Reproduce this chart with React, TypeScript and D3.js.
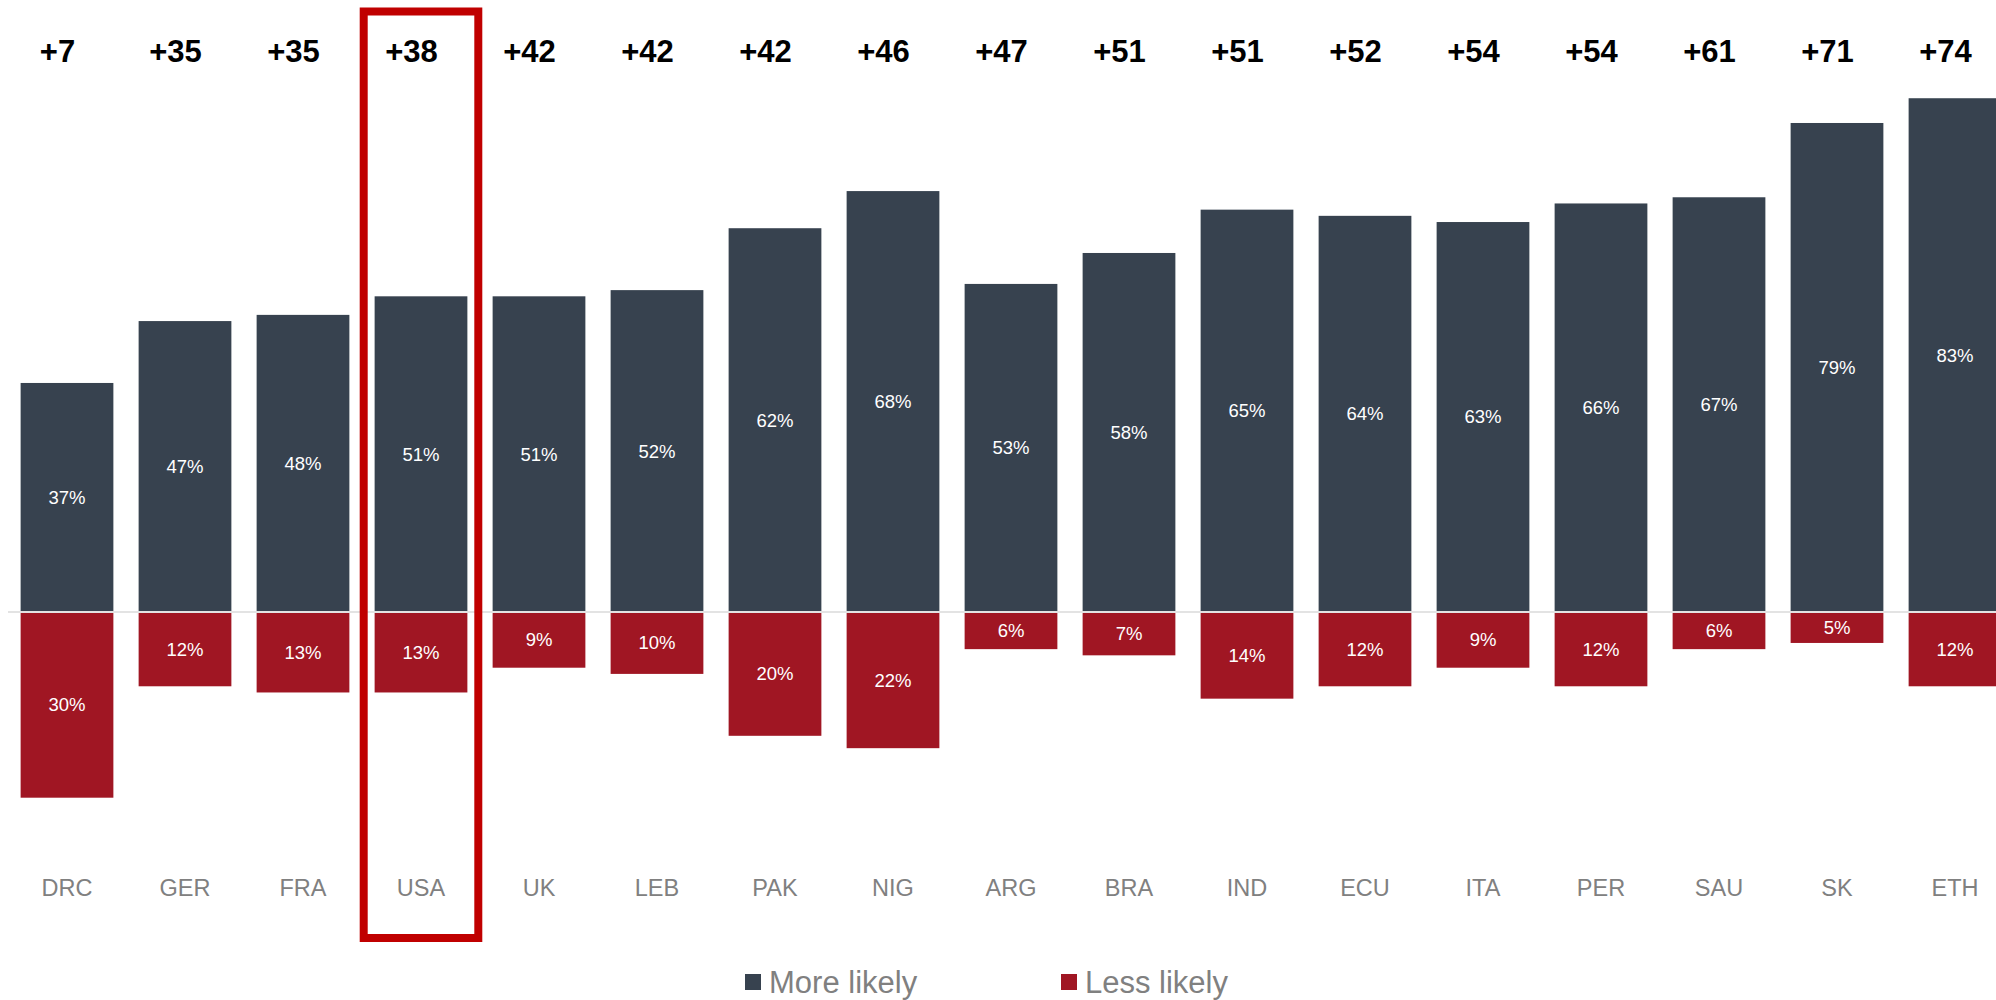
import { useRef, useEffect } from "react";
import * as d3 from "d3";

const countries = ["DRC", "GER", "FRA", "USA", "UK", "LEB", "PAK", "NIG", "ARG", "BRA", "IND", "ECU", "ITA", "PER", "SAU", "SK", "ETH"];
const moreLikely = [37, 47, 48, 51, 51, 52, 62, 68, 53, 58, 65, 64, 63, 66, 67, 79, 83];
const lessLikely = [30, 12, 13, 13, 9, 10, 20, 22, 6, 7, 14, 12, 9, 12, 6, 5, 12];
const netLabels = ["+7", "+35", "+35", "+38", "+42", "+42", "+42", "+46", "+47", "+51", "+51", "+52", "+54", "+54", "+61", "+71", "+74"];
const highlighted = "USA";

const legendItems = [
  { name: "More likely", color: "#37424f" },
  { name: "Less likely", color: "#a01623" },
];

const width = 1996;
const height = 1000;

const App = () => {
  const svgRef = useRef<SVGSVGElement>(null);

  useEffect(() => {
    const svg = d3.select(svgRef.current);
    svg.selectAll("*").remove();

    const zeroY = 612;
    const x = d3
      .scaleBand()
      .domain(countries)
      .range([8, 8 + countries.length * 118])
      .paddingInner(0.214)
      .paddingOuter(0.107);
    // one percentage point is ~6.19px
    const y = d3.scaleLinear().domain([0, 100]).range([zeroY, zeroY - 619]);
    const h = (v: number) => y(0) - y(v);

    const data = countries.map((c, i) => ({
      name: c,
      more: moreLikely[i],
      less: lessLikely[i],
      net: netLabels[i],
    }));

    const font = "'Liberation Sans', Arial, sans-serif";

    // more likely bars
    svg
      .selectAll(".more")
      .data(data)
      .enter()
      .append("rect")
      .attr("class", "more")
      .attr("x", (d) => x(d.name)!)
      .attr("width", x.bandwidth())
      .attr("y", (d) => y(d.more))
      .attr("height", (d) => h(d.more))
      .attr("fill", legendItems[0].color);

    // less likely bars
    svg
      .selectAll(".less")
      .data(data)
      .enter()
      .append("rect")
      .attr("class", "less")
      .attr("x", (d) => x(d.name)!)
      .attr("width", x.bandwidth())
      .attr("y", zeroY)
      .attr("height", (d) => h(d.less))
      .attr("fill", legendItems[1].color);

    // zero line
    svg
      .append("line")
      .attr("x1", 8)
      .attr("x2", width)
      .attr("y1", zeroY)
      .attr("y2", zeroY)
      .attr("stroke", "#e3e3e3")
      .attr("stroke-width", 2);

    // value labels
    svg
      .selectAll(".moreLabel")
      .data(data)
      .enter()
      .append("text")
      .attr("x", (d) => x(d.name)! + x.bandwidth() / 2)
      .attr("y", (d) => zeroY - h(d.more) / 2)
      .attr("dy", "0.35em")
      .attr("text-anchor", "middle")
      .attr("fill", "#ffffff")
      .style("font-family", font)
      .style("font-size", "18.5px")
      .text((d) => `${d.more}%`);

    svg
      .selectAll(".lessLabel")
      .data(data)
      .enter()
      .append("text")
      .attr("x", (d) => x(d.name)! + x.bandwidth() / 2)
      .attr("y", (d) => zeroY + h(d.less) / 2)
      .attr("dy", "0.35em")
      .attr("text-anchor", "middle")
      .attr("fill", "#ffffff")
      .style("font-family", font)
      .style("font-size", "18.5px")
      .text((d) => `${d.less}%`);

    // net labels on top
    svg
      .selectAll(".net")
      .data(data)
      .enter()
      .append("text")
      .attr("x", (d) => x(d.name)! + x.bandwidth() / 2 - 9.5)
      .attr("y", 62)
      .attr("text-anchor", "middle")
      .attr("fill", "#000000")
      .style("font-family", font)
      .style("font-weight", "bold")
      .style("font-size", "31px")
      .text((d) => d.net);

    // category labels
    svg
      .selectAll(".cat")
      .data(data)
      .enter()
      .append("text")
      .attr("x", (d) => x(d.name)! + x.bandwidth() / 2)
      .attr("y", 896)
      .attr("text-anchor", "middle")
      .attr("fill", "#808080")
      .style("font-family", font)
      .style("font-size", "23.5px")
      .text((d) => d.name);

    // highlight box
    const cx = x(highlighted)! + x.bandwidth() / 2;
    svg
      .append("rect")
      .attr("x", cx - 57.3)
      .attr("y", 11.5)
      .attr("width", 114.6)
      .attr("height", 926.5)
      .attr("fill", "none")
      .attr("stroke", "#c00000")
      .attr("stroke-width", 8);

    // legend
    const legend = svg
      .selectAll(".legend")
      .data(legendItems)
      .enter()
      .append("g")
      .attr("class", "legend")
      .attr("transform", (d, i) => `translate(${745 + i * 316}, 0)`);
    legend
      .append("rect")
      .attr("x", 0)
      .attr("y", 974)
      .attr("width", 16)
      .attr("height", 16)
      .attr("fill", (d) => d.color);
    legend
      .append("text")
      .attr("x", 24)
      .attr("y", 993)
      .attr("fill", "#808080")
      .style("font-family", font)
      .style("font-size", "31px")
      .text((d) => d.name);
  }, []);

  return (
    <svg
      ref={svgRef}
      width={width}
      height={height}
      style={{ position: "absolute", left: 0, top: 0, display: "block", background: "#fff" }}
    ></svg>
  );
};

export default App;
